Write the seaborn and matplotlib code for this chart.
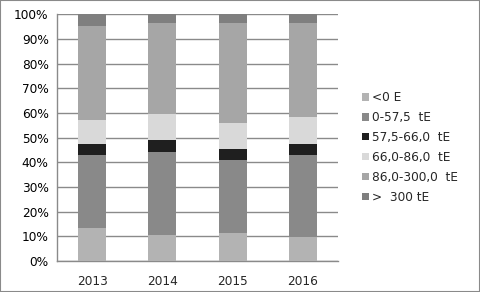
import matplotlib
matplotlib.use("Agg")
import matplotlib.pyplot as plt
import seaborn as sns
import pandas as pd
import numpy as np
from matplotlib.patches import Rectangle, Patch

years = ["2013", "2014", "2015", "2016"]
series = ["<0 E", "0-57,5  tE", "57,5-66,0  tE", "66,0-86,0  tE", "86,0-300,0  tE", ">  300 tE"]
v_neg = [13.4, 10.5, 11.4, 9.7]
v_0_57 = [29.6, 33.7, 29.5, 33.3]
v_57_66 = [4.4, 4.9, 4.5, 4.4]
v_66_86 = [9.8, 10.5, 10.5, 11.0]
v_86_300 = [38.1, 36.9, 40.6, 38.1]
v_300 = [4.7, 3.5, 3.5, 3.5]
values = [v_neg, v_0_57, v_57_66, v_66_86, v_86_300, v_300]
colors = ["#b3b3b3", "#898989", "#1f1f1f", "#d9d9d9", "#a6a6a6", "#7f7f7f"]

sns.set_style("white")
plt.rcParams['font.family'] = ['DejaVu Sans']
fs = 8.7

fig = plt.figure(figsize=(4.8, 2.92), dpi=100)
ax = fig.add_axes([57/480, 1-261/292, (338-57)/480, (261-14.3)/292])

cum = np.cumsum(np.array(values), axis=0)
for i in range(len(series) - 1, -1, -1):
    df = pd.DataFrame({"year": years, "val": cum[i]})
    sns.barplot(data=df, x="year", y="val", color=colors[i], width=0.4,
                saturation=1, ax=ax, zorder=3, linewidth=0)

ax.set_ylim(0, 100)
ax.set_xlim(-0.5, 3.5)
ax.set_yticks(np.arange(0, 101, 10))
ax.set_yticklabels([f"{t}%" for t in range(0, 101, 10)], fontsize=fs, color="#000000")
ax.yaxis.grid(True, color="#8a8a8a", linewidth=1, zorder=0)
ax.set_axisbelow(True)
ax.set_xlabel("")
ax.set_ylabel("")
ax.tick_params(axis="x", which="major", length=0, labelsize=fs, pad=10)
ax.set_xticks([0.5, 1.5, 2.5, 3.5], minor=True)
ax.tick_params(axis="x", which="minor", length=4, color="#8a8a8a", width=1)
ax.tick_params(axis="y", length=3, color="#8a8a8a", width=1, pad=3)
for s in ["top", "right"]:
    ax.spines[s].set_visible(False)
for s in ["left", "bottom"]:
    ax.spines[s].set_color("#8a8a8a")
    ax.spines[s].set_linewidth(1)

handles = [Patch(facecolor=c, edgecolor="none") for c in colors]
fig.legend(handles, series, loc="upper left", bbox_to_anchor=(362/480, 1-91/292),
           frameon=False, fontsize=fs, handlelength=0.6, handleheight=0.6,
           handletextpad=0.25, labelspacing=0.575, borderaxespad=0, borderpad=0)

fig.patches.append(Rectangle((0, 0), 1, 1, transform=fig.transFigure, fill=False,
                             edgecolor="#8a8a8a", linewidth=1.5))
fig.savefig("out.png", dpi=100)
